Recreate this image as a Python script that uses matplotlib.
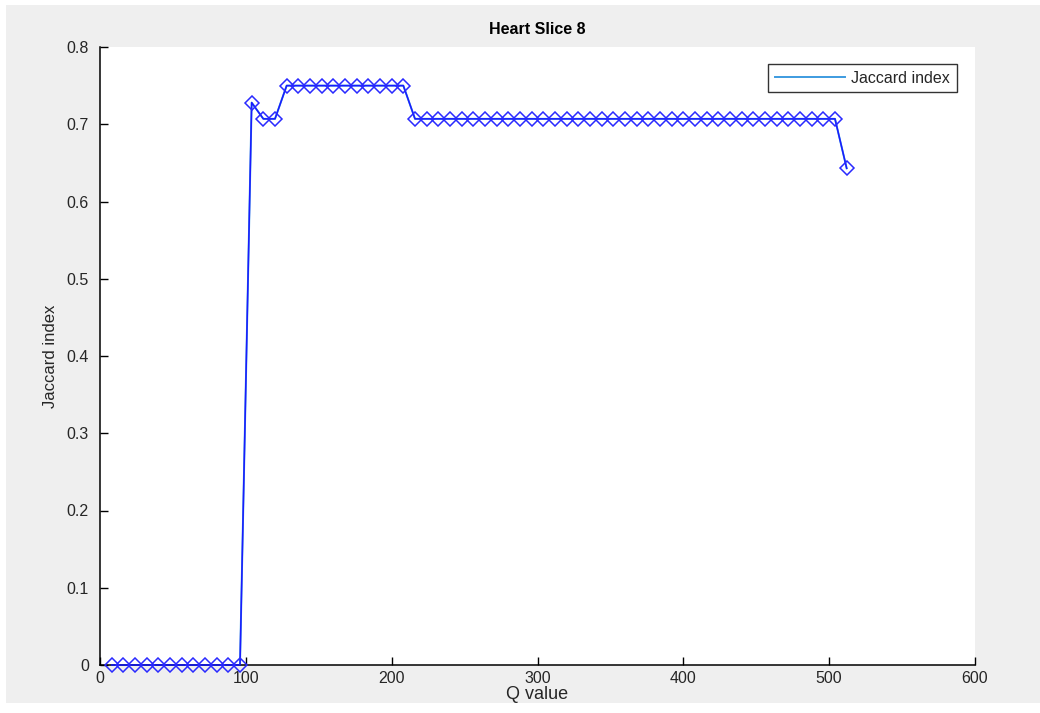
import numpy as np
import matplotlib
matplotlib.use("Agg")
import matplotlib.pyplot as plt
from matplotlib.patches import Rectangle

# ---------- data ----------
q_values = list(range(8, 513, 8))
jaccard = ([0.0] * 12 + [0.728, 0.707, 0.707] + [0.75] * 11
           + [0.707] * 37 + [0.643])

title = "Heart Slice 8"
x_label = "Q value"
y_label = "Jaccard index"
legend_label = "Jaccard index"
x_ticks = [0, 100, 200, 300, 400, 500, 600]
y_ticks = [0, 0.1, 0.2, 0.3, 0.4, 0.5, 0.6, 0.7, 0.8]

plt.rcParams['font.family'] = ['Liberation Sans', 'DejaVu Sans']
text_color = '#262626'

fig = plt.figure(figsize=(10.40, 7.13), dpi=100, facecolor='white')
# matlab-like grey figure panel with thin white margin
fig.patches.append(Rectangle((6 / 1040, 10 / 713), 1 - 6 / 1040, 1 - 15 / 713,
                             transform=fig.transFigure, facecolor='#efefef',
                             edgecolor='none', zorder=-10))

ax = fig.add_axes([100 / 1040, 48 / 713, 875 / 1040, 618 / 713])
ax.set_facecolor('white')

ax.plot(q_values, jaccard, color='#3d9be0', lw=1.4, label=legend_label,
        zorder=2, clip_on=False)
ax.plot(q_values, jaccard, color='#1a1aff', lw=1.1, marker='D', ms=7.5,
        mfc='none', mec='#2a2aff', mew=1.1, zorder=3, clip_on=False)

ax.set_xlim(0, 600)
ax.set_ylim(0, 0.8)
ax.set_xticks(x_ticks)
ax.set_yticks(y_ticks)
ax.set_yticklabels([f"{v:g}" for v in y_ticks])
ax.tick_params(direction='in', length=6, width=1, colors='black',
               labelcolor=text_color, labelsize=11.5, top=False, right=False)
ax.tick_params(axis='y', pad=8)
ax.tick_params(axis='x', pad=4)
for s in ['top', 'right']:
    ax.spines[s].set_visible(False)
for s in ['left', 'bottom']:
    ax.spines[s].set_linewidth(1.1)

ax.set_title(title, fontsize=11.5, fontweight='bold', color='black', pad=9)
ax.set_xlabel(x_label, fontsize=13, color=text_color, labelpad=0)
ax.set_ylabel(y_label, fontsize=12, color=text_color, labelpad=6)

leg = ax.legend(loc='upper right', bbox_to_anchor=(0.979, 0.972), fontsize=11.5,
                frameon=True, fancybox=False, handlelength=4.4,
                borderpad=0.4, handletextpad=0.4, borderaxespad=0)
leg.get_frame().set_edgecolor('black')
leg.get_frame().set_linewidth(1.0)
for t in leg.get_texts():
    t.set_color(text_color)

fig.savefig("out.png", dpi=100, facecolor=fig.get_facecolor())
